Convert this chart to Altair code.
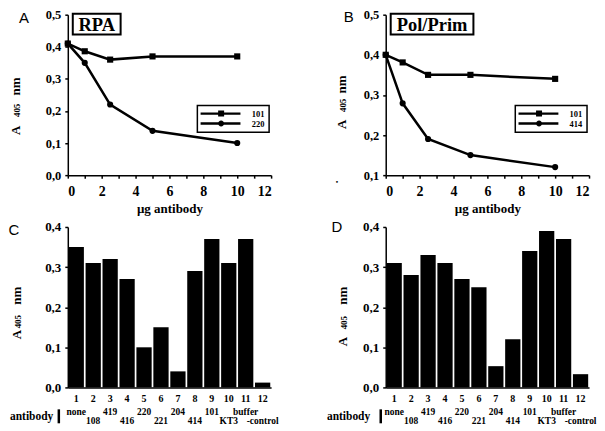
import altair as alt
import pandas as pd

# ---------------- data ----------------
dose = [0, 1, 2.5, 5, 10]
rpa_101 = [0.41, 0.386, 0.36, 0.37, 0.37]
rpa_220 = [0.41, 0.35, 0.22, 0.138, 0.10]
pol_101 = [0.40, 0.381, 0.35, 0.35, 0.34]
pol_414 = [0.40, 0.279, 0.19, 0.15, 0.12]

lanes = [str(i) for i in range(1, 13)]
antibodies = ["none", "108", "419", "416", "220", "221", "204", "414",
              "101", "KT3", "buffer", "-control"]
rpa_bars = [0.35, 0.31, 0.32, 0.27, 0.10, 0.15, 0.04, 0.29, 0.37, 0.31, 0.37, 0.012]
pol_bars = [0.31, 0.28, 0.33, 0.31, 0.27, 0.25, 0.053, 0.12, 0.34, 0.39, 0.37, 0.033]

SERIF = "Liberation Serif"
SANS = "Liberation Sans"
W, H = 204, 161
COMMA = "replace(format(datum.value, '.1f'), '.', ',')"

# legend symbols: line with square / circle marker (unit path, scaled by legend symbolSize)
SQ = "M-1.25,-0.3H8.75V0.3H-1.25Z M3.15,-0.75H4.65V0.75H3.15Z"
CI = "M-1.25,-0.3H8.75V0.3H-1.25Z M4.65,0A0.75,0.75 0 1,1 3.15,0A0.75,0.75 0 1,1 4.65,0Z"

one = pd.DataFrame({"k": [0]})


def text_at(txt, x, y, size, font=SERIF, weight="bold", align="center",
            baseline="middle", angle=0):
    return alt.Chart(one).mark_text(
        text=txt, font=font, fontSize=size, fontWeight=weight, color="black",
        align=align, baseline=baseline, angle=angle
    ).encode(x=alt.value(x), y=alt.value(y))


def ytitle(x, ya, y405, ynm):
    # "A 405 nm" written bottom-to-top, with 405 in a smaller size
    return [text_at("A", x, ya, 13, angle=270),
            text_at("405", x + 1, y405, 9, angle=270),
            text_at("nm", x, ynm, 13, angle=270)]


def box_at(x1, x2, y1, y2):
    return alt.Chart(one).mark_rect(filled=False, stroke="black", strokeWidth=2).encode(
        x=alt.value(x1), x2=alt.value(x2), y=alt.value(y1), y2=alt.value(y2))


def line_panel(s1, s2, names, ydom, yvals, letter, lpos, boxtxt, boxw, tpos, extra=None):
    df = pd.DataFrame({
        "dose": dose + dose,
        "A": s1 + s2,
        "series": [names[0]] * len(dose) + [names[1]] * len(dose),
    })
    base = alt.Chart(df)
    x = alt.X("dose:Q", scale=alt.Scale(domain=[0, 12], nice=False),
              axis=alt.Axis(values=list(range(13)),
                            labelExpr="datum.value % 2 == 0 ? datum.label : ''",
                            title="\u00b5g antibody", labelFontSize=14, titleFontSize=13,
                            tickSize=3, labelPadding=6, titleY=37,
                            titleBaseline="alphabetic"))
    y = alt.Y("A:Q", scale=alt.Scale(domain=ydom, nice=False, zero=False),
              axis=alt.Axis(values=yvals, labelExpr=COMMA, title=None,
                            labelFontSize=12.5, tickSize=3, labelPadding=4))
    line = base.mark_line(color="black", strokeWidth=2.5).encode(
        x=x, y=y, detail="series:N")
    pts = base.mark_point(filled=True, opacity=1, color="black", size=38).encode(
        x=x, y=y,
        shape=alt.Shape("series:N", scale=alt.Scale(domain=names, range=["square", "circle"]),
                        legend=None))
    leg = base.mark_point(filled=True, opacity=0, color="black").encode(
        x=x, y=y,
        shape=alt.Shape("series:N", scale=alt.Scale(domain=names, range=[SQ, CI]),
                        legend=alt.Legend(title=None, orient="none", legendX=130,
                                          legendY=91)))
    lx, ly = lpos
    layers = [line, pts, leg,
              text_at(letter, lx, ly, 15, font=SANS, weight="normal"),
              box_at(5, 5 + boxw, -1, 20),
              text_at(boxtxt, 5 + boxw / 2, 10.5, 18.5)] + ytitle(*tpos)
    if extra is not None:
        layers.append(extra)
    return alt.layer(*layers).resolve_scale(shape="independent").properties(width=W, height=H)


def bar_panel(vals, letter, lpos, ab_x, bar_x, tpos):
    df = pd.DataFrame({
        "lane": lanes,
        "ab": antibodies,
        "row": [i % 2 for i in range(len(lanes))],
        "A": vals,
    })
    xenc = alt.X("lane:N", scale=alt.Scale(domain=lanes, paddingInner=0.1, paddingOuter=0.05),
                 axis=alt.Axis(title=None, labelAngle=0, ticks=False, tickSize=0,
                               labelPadding=11, labelFontSize=10, labelBaseline="middle",
                               labelOverlap=False, labelBound=False))
    bars = alt.Chart(df).mark_bar(color="black").encode(
        x=xenc,
        y=alt.Y("A:Q", scale=alt.Scale(domain=[0, 0.4], nice=False),
                axis=alt.Axis(values=[0, 0.1, 0.2, 0.3, 0.4], labelExpr=COMMA,
                              title=None, labelFontSize=13, tickSize=3, labelPadding=4)))
    row1 = alt.Chart(df).transform_filter("datum.row == 0").mark_text(
        font=SERIF, fontWeight="bold", fontSize=9.5, color="black", baseline="middle"
    ).encode(x=alt.X("lane:N"), text="ab:N", y=alt.value(H + 25))
    row2 = alt.Chart(df).transform_filter("datum.row == 1").mark_text(
        font=SERIF, fontWeight="bold", fontSize=9.5, color="black", baseline="middle"
    ).encode(x=alt.X("lane:N"), text="ab:N", y=alt.value(H + 33.5))
    lx, ly = lpos
    letter_mark = text_at(letter, lx, ly, 15, font=SANS, weight="normal")
    ab = text_at("antibody", ab_x, H + 30, 11.5, align="left")
    rule = alt.Chart(one).mark_rule(color="black", strokeWidth=2.5).encode(
        x=alt.value(bar_x), y=alt.value(H + 22), y2=alt.value(H + 36))
    return alt.layer(bars, row1, row2, letter_mark, ab, rule, *ytitle(*tpos)).properties(
        width=W, height=H)


A = line_panel(rpa_101, rpa_220, ["101", "220"], [0, 0.5],
               [0, 0.1, 0.2, 0.3, 0.4, 0.5], "A", (-44, 3), "RPA", 48,
               (-52, 116, 96, 72))
B = line_panel(pol_101, pol_414, ["101", "414"], [0.1, 0.5],
               [0.1, 0.2, 0.3, 0.4, 0.5], "B", (-37, 2), "Pol/Prim", 83,
               (-44, 110, 91, 70),
               extra=text_at("\u2022", -49, 168, 7))

C = bar_panel(rpa_bars, "C", (-54, 3), -58, -9, (-51, 108, 95, 69))
D = bar_panel(pol_bars, "D", (-49, 0), -59, -5, (-43, 115, 96, 69))

chart = alt.ConcatChart(
    concat=[A, B, C, D], columns=2, bounds="flush",
    spacing=alt.RowColnumber(row=52, column=115)
).resolve_scale(shape="independent").resolve_legend(shape="independent").properties(
    padding=0
).configure_view(stroke=None).configure_axis(
    domainColor="black", domainWidth=1.5, tickColor="black", tickWidth=1.5,
    grid=False, labelFont=SERIF, labelFontWeight="bold", labelColor="black",
    titleFont=SERIF, titleFontWeight="bold", titleColor="black"
).configure_legend(
    strokeColor="black", strokeWidth=1.5, padding=4, rowPadding=1,
    labelFont=SERIF, labelFontWeight="bold", labelFontSize=8.5, labelColor="black",
    labelOffset=42, symbolSize=64, symbolFillColor="black",
    symbolStrokeColor="black", symbolStrokeWidth=0, symbolOpacity=1
)

chart.save("out.html", embed_options={"renderer": "svg", "actions": False})
